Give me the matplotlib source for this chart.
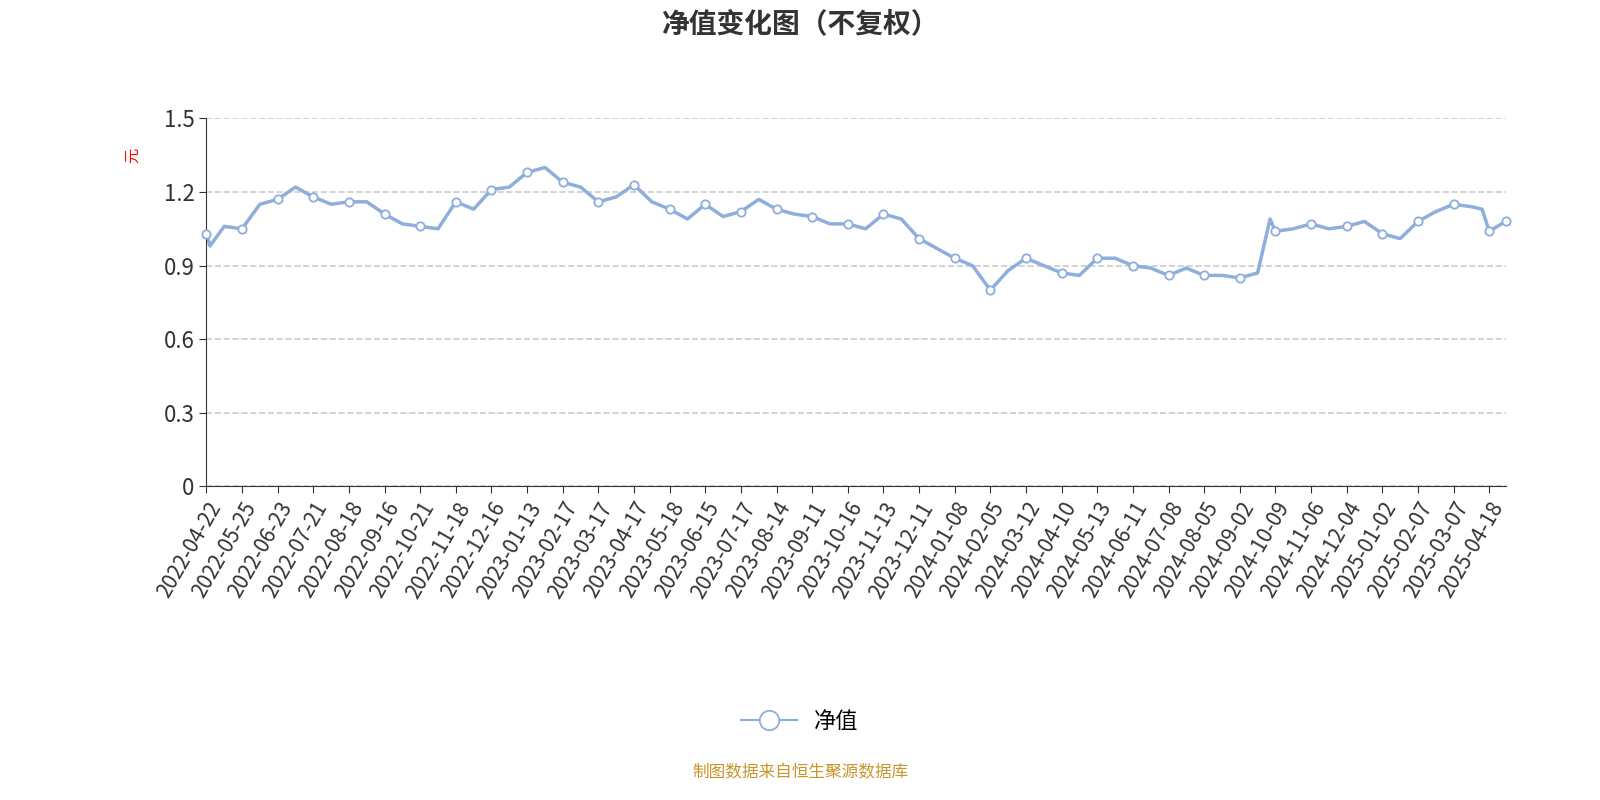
import matplotlib.pyplot as plt
import numpy as np

plt.rcParams['font.family'] = ['Noto Sans CJK SC', 'DejaVu Sans']

tick_labels = ['2022-04-22', '2022-05-25', '2022-06-23', '2022-07-21', '2022-08-18', '2022-09-16',
               '2022-10-21', '2022-11-18', '2022-12-16', '2023-01-13', '2023-02-17', '2023-03-17',
               '2023-04-17', '2023-05-18', '2023-06-15', '2023-07-17', '2023-08-14', '2023-09-11',
               '2023-10-16', '2023-11-13', '2023-12-11', '2024-01-08', '2024-02-05', '2024-03-12',
               '2024-04-10', '2024-05-13', '2024-06-11', '2024-07-08', '2024-08-05', '2024-09-02',
               '2024-10-09', '2024-11-06', '2024-12-04', '2025-01-02', '2025-02-07', '2025-03-07',
               '2025-04-18']
# net value at each labelled date (marker points) plus the final point
marker_vals = [1.03, 1.05, 1.17, 1.18, 1.16, 1.11, 1.06, 1.16, 1.21, 1.28, 1.24, 1.16, 1.23,
               1.13, 1.15, 1.12, 1.13, 1.10, 1.07, 1.11, 1.01, 0.93, 0.80, 0.93, 0.87, 0.93,
               0.90, 0.86, 0.86, 0.85, 1.04, 1.07, 1.06, 1.03, 1.08, 1.15, 1.04]
last_val = 1.08
# values between labelled dates
mid_vals = [1.06, 1.15, 1.22, 1.15, 1.16, 1.07, 1.05, 1.13, 1.22, 1.30, 1.22, 1.18, 1.16,
            1.09, 1.10, 1.17, 1.11, 1.07, 1.05, 1.09, 0.97, 0.90, 0.88, 0.90, 0.86, 0.93,
            0.89, 0.89, 0.86, 0.87, 1.05, 1.05, 1.08, 1.01, 1.12, 1.14]
extra_x = [0.1, 29.85, 35.8]
extra_vals = [0.98, 1.09, 1.13]

n = len(tick_labels)
xs = list(range(n)) + [i + 0.5 for i in range(n - 1)] + extra_x + [n - 0.54]
ys = marker_vals + mid_vals + extra_vals + [last_val]
order = np.argsort(xs)
xs = np.array(xs)[order]
ys = np.array(ys)[order]
mx = list(range(n)) + [n - 0.54]
my = marker_vals + [last_val]

color = '#8eaedc'
fig = plt.figure(figsize=(16, 8), dpi=100)
ax = fig.add_axes([0.129, 0.392, 0.812, 0.46])
ax.plot(xs, ys, color=color, lw=2.5, zorder=2)
ax.plot(mx, my, 'o', color=color, mfc='white', mec=color, ms=6, mew=1.3, zorder=3, clip_on=False)
line_h, = ax.plot([], [], '-o', color=color, mfc='white', mec=color, ms=14, mew=1.3, lw=1.5)

ax.set_xlim(0, n - 0.54)
ax.set_ylim(0, 1.5)
ax.set_yticks([0, 0.3, 0.6, 0.9, 1.2, 1.5])
ax.set_yticklabels(['0', '0.3', '0.6', '0.9', '1.2', '1.5'], fontsize=16, color='#333333')
ax.set_xticks(range(n))
ax.set_xticklabels(tick_labels, rotation=60, ha='right', rotation_mode='anchor', fontsize=15, color='#333333')
ax.grid(axis='y', ls='--', color='#cccccc', lw=1.2)
ax.set_axisbelow(True)
for s in ['top', 'right']:
    ax.spines[s].set_visible(False)
ax.spines['left'].set_color('#333333')
ax.spines['bottom'].set_color('#333333')
ax.tick_params(axis='x', length=5, color='#333333')
ax.tick_params(axis='y', length=5, color='#333333')
ax.set_ylabel('元', color='red', fontsize=11)
ax.yaxis.set_label_coords(-0.05, 0.9)

fig.text(0.5, 0.97, '净值变化图（不复权）', ha='center', va='center', fontsize=20, fontweight='bold', color='#333333')
fig.legend([line_h], ['净值'], loc='center', bbox_to_anchor=(0.5, 0.098), frameon=False, fontsize=16, handlelength=2.5)
fig.text(0.5, 0.034, '制图数据来自恒生聚源数据库', ha='center', va='center', fontsize=12, color='#c8952a')

fig.savefig('out.png')
